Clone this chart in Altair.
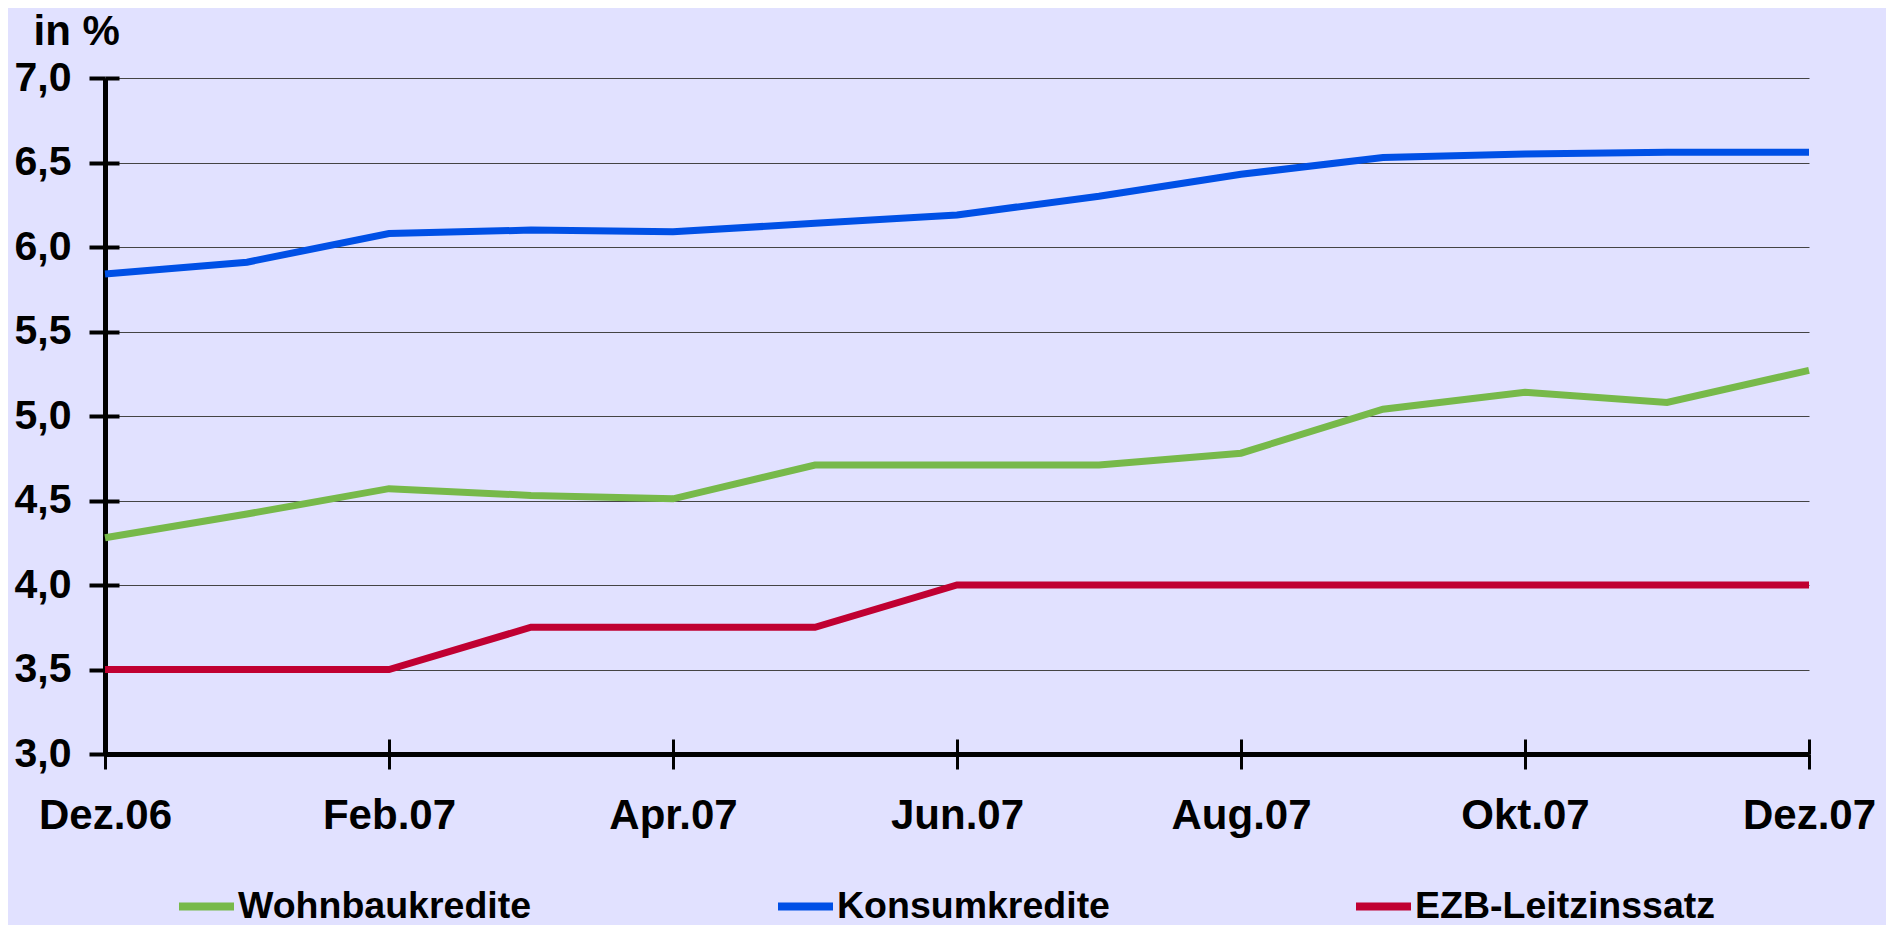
import altair as alt
import pandas as pd

months = ["Dez.06", "Jan.07", "Feb.07", "Mär.07", "Apr.07", "Mai.07", "Jun.07",
          "Jul.07", "Aug.07", "Sep.07", "Okt.07", "Nov.07", "Dez.07"]
tick_months = ["Dez.06", "Feb.07", "Apr.07", "Jun.07", "Aug.07", "Okt.07", "Dez.07"]
series = ["Wohnbaukredite", "Konsumkredite", "EZB-Leitzinssatz"]
colors = ["#77B94A", "#0050E6", "#C00032"]
wohnbau = [4.28, 4.42, 4.57, 4.53, 4.51, 4.71, 4.71, 4.71, 4.78, 5.04, 5.14, 5.08, 5.27]
konsum = [5.84, 5.91, 6.08, 6.10, 6.09, 6.14, 6.19, 6.30, 6.43, 6.53, 6.55, 6.56, 6.56]
ezb = [3.5, 3.5, 3.5, 3.75, 3.75, 3.75, 4.0, 4.0, 4.0, 4.0, 4.0, 4.0, 4.0]
y_ticks = [3.0, 3.5, 4.0, 4.5, 5.0, 5.5, 6.0, 6.5, 7.0]

rows = []
for name, vals in zip(series, [wohnbau, konsum, ezb]):
    for m, v in zip(months, vals):
        rows.append({"month": m, "series": name, "value": v})
df = pd.DataFrame(rows)

W, H = 1704, 676
FONT = "Liberation Sans"

xscale = alt.Scale(type="point", padding=0)
yscale = alt.Scale(domain=[3, 7], nice=False, zero=False)

lines = alt.Chart(df).mark_line(strokeWidth=7).encode(
    x=alt.X("month:N", sort=months, scale=xscale,
            axis=alt.Axis(values=tick_months, title=None, labelAngle=0,
                          labelFont=FONT, labelFontSize=42, labelFontWeight="bold",
                          labelColor="black", labelPadding=26,
                          domainColor="black", domainWidth=5,
                          tickColor="black", tickWidth=3, tickSize=15, grid=False)),
    y=alt.Y("value:Q", scale=yscale,
            axis=alt.Axis(values=y_ticks, title="in %", titleAngle=0,
                          titleAlign="left", titleBaseline="alphabetic",
                          titleX=-72, titleY=-34, titleFont=FONT, titleFontSize=42,
                          titleFontWeight="bold", titleColor="black",
                          labelExpr="replace(format(datum.value, '.1f'), '.', ',')",
                          labelFont=FONT, labelFontSize=41, labelFontWeight="bold",
                          labelColor="black", labelPadding=18,
                          domainColor="black", domainWidth=5,
                          tickColor="black", tickWidth=4, tickSize=16,
                          grid=True, gridColor="#444444", gridWidth=1)),
    color=alt.Color("series:N", sort=series,
                    scale=alt.Scale(domain=series, range=colors),
                    legend=alt.Legend(title=None, orient="none", legendX=70, legendY=797,
                                      direction="horizontal", symbolType="stroke",
                                      symbolSize=3025, symbolStrokeWidth=8,
                                      labelFont=FONT, labelFontSize=37.5,
                                      labelFontWeight="bold", labelColor="black",
                                      labelOffset=0, labelLimit=0, columnPadding=230)),
)

inner_ticks = alt.Chart(df).mark_line(opacity=0).encode(
    x=alt.X("month:N", sort=months, scale=xscale,
            axis=alt.Axis(values=tick_months, orient="top", offset=-H, title=None,
                          labels=False, domain=False, grid=False,
                          tickColor="black", tickWidth=3, tickSize=15)),
    y=alt.Y("value:Q", scale=yscale,
            axis=alt.Axis(values=y_ticks, orient="right", offset=-W, title=None,
                          labels=False, domain=False, grid=False,
                          tickColor="black", tickWidth=4, tickSize=14)),
    detail="series:N",
)

chart = alt.layer(lines, inner_ticks).resolve_axis(
    x="independent", y="independent"
).properties(
    width=W, height=H,
    autosize=alt.AutoSizeParams(type="none"),
    padding={"left": 97, "top": 70, "right": 77, "bottom": 175},
    background="#E1E1FF",
).configure_view(stroke=None)

chart.save("out.html", embed_options={"renderer": "svg", "actions": False})
